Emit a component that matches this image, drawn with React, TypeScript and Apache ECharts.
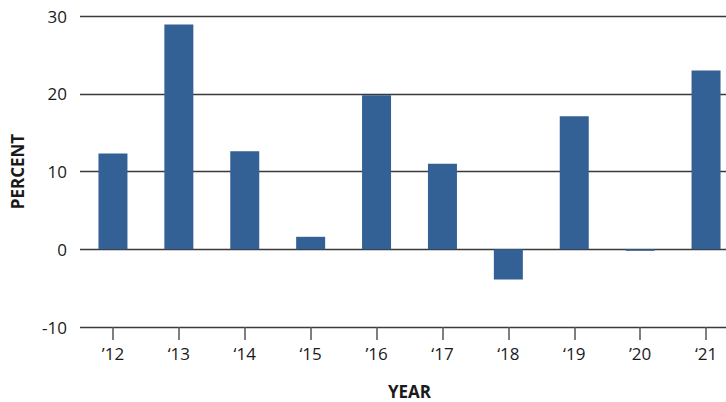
import React, { useEffect, useRef } from "react";
import * as echarts from "echarts";

const categories = ["\u201912", "\u201813", "\u201814", "\u201815", "\u201916", "\u201817", "\u201818", "\u201819", "\u201920", "\u201821"];
const values = [12.3, 28.9, 12.6, 1.6, 19.8, 11.0, -3.9, 17.1, -0.2, 23.0];
const yTicks = { min: -10, max: 30, interval: 10 };

const FONT = "'Open Sans', 'Noto Sans', sans-serif";

export default function App() {
  const ref = useRef<HTMLDivElement>(null);
  useEffect(() => {
    if (!ref.current) return;
    const chart = echarts.init(ref.current, null, { renderer: "svg" });
    chart.setOption({
      animation: false,
      grid: { left: 80, top: 16, width: 659, height: 311, containLabel: false, outerBoundsMode: "none" },
      xAxis: {
        type: "category",
        data: categories,
        name: "YEAR",
        nameLocation: "middle",
        nameGap: 55,
        nameTextStyle: { fontFamily: FONT, fontWeight: "bold", fontSize: 17, lineHeight: 18, color: "#1a1a1a" },
        axisLine: { show: false, onZero: false },
        axisTick: { show: true, alignWithLabel: true, length: 13, lineStyle: { color: "#555", width: 1.5 } },
        axisLabel: { fontFamily: FONT, fontSize: 17, color: "#1a1a1a", margin: 18 },
      },
      yAxis: {
        type: "value",
        min: yTicks.min,
        max: yTicks.max,
        interval: yTicks.interval,
        name: "PERCENT",
        nameLocation: "middle",
        nameGap: 54,
        nameRotate: 90,
        nameTextStyle: { fontFamily: FONT, fontWeight: "bold", fontSize: 17, color: "#1a1a1a" },
        axisLine: { show: false },
        axisTick: { show: false },
        axisLabel: { fontFamily: FONT, fontSize: 17, color: "#1a1a1a", margin: 13 },
        splitLine: { show: true, lineStyle: { color: "#3a3a3a", width: 1.3 } },
      },
      series: [
        {
          type: "bar",
          data: values,
          barWidth: 29,
          itemStyle: { color: "#336195" },
        },
      ],
    });
    return () => chart.dispose();
  }, []);
  return <div ref={ref} style={{ width: 726, height: 402, position: "absolute", left: 0, top: 0 }} />;
}
